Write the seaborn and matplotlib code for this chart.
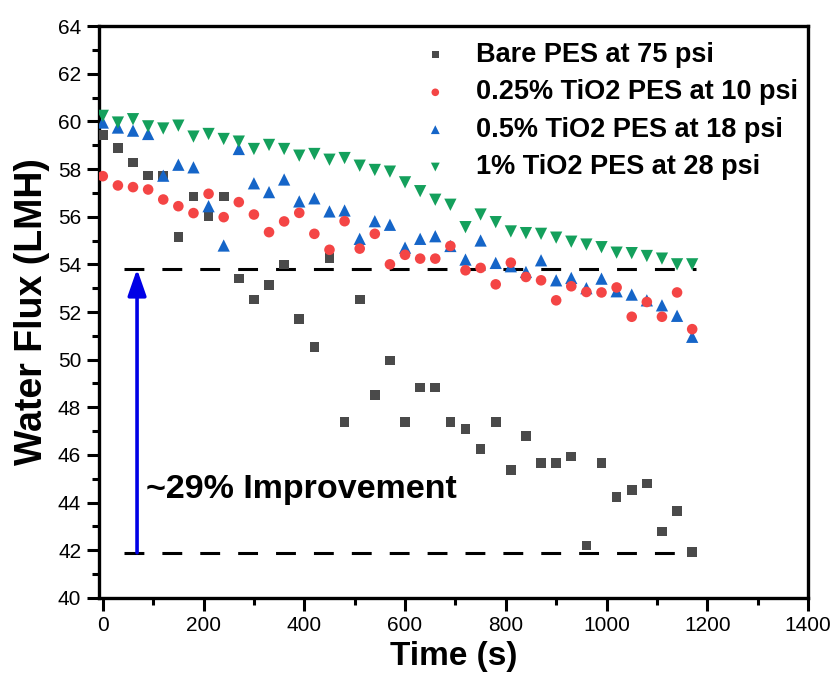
import numpy as np
import pandas as pd
import seaborn as sns
import matplotlib.pyplot as plt

# time points (s)
time_s = [0, 30, 60, 90, 120, 150, 180, 210, 240, 270,
          300, 330, 360, 390, 420, 450, 480, 510, 540, 570,
          600, 630, 660, 690, 720, 750, 780, 810, 840, 870,
          900, 930, 960, 990, 1020, 1050, 1080, 1110, 1140, 1170]

# water flux (LMH)
bare_pes = [59.44, 58.87, 58.28, 57.72, 57.70, 55.15, 56.84, 56.00, 56.84, 53.40,
            52.53, 53.12, 54.00, 51.70, 50.54, 54.26, 47.38, 52.53, 48.53, 49.96,
            47.38, 48.83, 48.83, 47.38, 47.08, 46.25, 47.38, 45.38, 46.80, 45.66,
            45.66, 45.94, 42.21, 45.66, 44.24, 44.52, 44.80, 42.79, 43.64, 41.92]
tio2_025 = [57.70, 57.31, 57.24, 57.14, 56.72, 56.44, 56.15, 56.96, 55.98, 56.61,
            56.09, 55.35, 55.80, 56.16, 55.28, 54.61, 55.81, 54.66, 55.28, 54.00,
            54.40, 54.24, 54.24, 54.77, 53.75, 53.85, 53.16, 54.07, 53.47, 53.33,
            52.49, 53.08, 52.84, 52.82, 53.03, 51.80, 52.42, 51.80, 52.82, 51.28]
tio2_05 = [59.95, 59.74, 59.61, 59.47, 57.72, 58.18, 58.07, 56.44, 54.79, 58.84,
           57.40, 57.03, 57.56, 56.64, 56.77, 56.22, 56.26, 55.07, 55.81, 55.66,
           54.70, 55.07, 55.18, 54.77, 54.20, 55.00, 54.06, 53.92, 53.68, 54.17,
           53.33, 53.43, 53.00, 53.40, 52.87, 52.73, 52.49, 52.28, 51.84, 50.96]
tio2_1 = [60.23, 59.95, 60.09, 59.79, 59.70, 59.82, 59.36, 59.47, 59.26, 59.15,
          58.84, 59.01, 58.84, 58.56, 58.63, 58.39, 58.46, 58.14, 57.96, 57.89,
          57.44, 57.07, 56.71, 56.50, 55.56, 56.09, 55.77, 55.38, 55.31, 55.28,
          55.12, 54.95, 54.83, 54.72, 54.49, 54.47, 54.35, 54.24, 54.00, 54.00]

labels = ['Bare PES at 75 psi', '0.25% TiO2 PES at 10 psi',
          '0.5% TiO2 PES at 18 psi', '1% TiO2 PES at 28 psi']
colors = ['#4a4a4a', '#f44545', '#1565c8', '#14a05c']
markers = ['s', 'o', '^', 'v']
sizes = [48, 58, 78, 78]

# reference levels for the annotation
upper_level = 53.8
lower_level = 41.9

sns.set_style('ticks')
plt.rcParams['font.family'] = ['Liberation Sans', 'DejaVu Sans']
plt.rcParams['text.color'] = 'black'
plt.rcParams['axes.labelcolor'] = 'black'
plt.rcParams['xtick.color'] = 'black'
plt.rcParams['ytick.color'] = 'black'

fig, ax = plt.subplots(figsize=(8.37, 6.81), dpi=100)
fig.subplots_adjust(left=0.1186, right=0.9654, bottom=0.1219, top=0.9618)

series = [bare_pes, tio2_025, tio2_05, tio2_1]
# draw blue before red so red sits on top like the original
for k in [0, 2, 1, 3]:
    df = pd.DataFrame({'Time': time_s, 'Flux': series[k]})
    sns.scatterplot(data=df, x='Time', y='Flux', ax=ax, color=colors[k],
                    marker=markers[k], s=sizes[k], edgecolor='none',
                    linewidth=0, label=labels[k], zorder=3)

# dashed reference lines
ax.hlines([upper_level, lower_level], 42, 1178, colors='black',
          linestyles=(0, (6.5, 5.9)), linewidth=2.2, zorder=2)

# improvement arrow
ax.annotate('', xy=(68, upper_level), xytext=(68, lower_level),
            arrowprops=dict(arrowstyle='-|>,head_length=0.8,head_width=0.28',
                            color='#0000e6', lw=2.6, mutation_scale=20,
                            shrinkA=0, shrinkB=0), zorder=4)
ax.text(85, 44.55, '~29% Improvement', fontsize=24.5, fontweight='bold',
        va='center', ha='left', color='black')

ax.set_xlim(-7, 1400)
ax.set_ylim(40, 64)
ax.set_xticks(range(0, 1401, 200))
ax.set_xticks(range(100, 1400, 200), minor=True)
ax.set_yticks(range(40, 65, 2))
ax.set_yticks(range(41, 64, 2), minor=True)
ax.tick_params(axis='both', which='major', direction='out', length=9, width=2.2,
               labelsize=15, color='black', labelcolor='black', pad=4)
ax.tick_params(axis='both', which='minor', direction='out', length=5, width=2.2,
               color='black')
for sp in ax.spines.values():
    sp.set_linewidth(2.4)
    sp.set_color('black')

ax.set_xlabel('Time (s)', fontsize=24, fontweight='bold', labelpad=4)
ax.set_ylabel('Water Flux (LMH)', fontsize=27, fontweight='bold', labelpad=6)

h, l = ax.get_legend_handles_labels()
order = [l.index(name) for name in labels]
ax.legend([h[i] for i in order], [l[i] for i in order], loc='upper left',
          bbox_to_anchor=(0.455, 0.972), frameon=False,
          prop={'weight': 'bold', 'size': 19.5}, handlelength=1.0,
          handletextpad=1.0, borderpad=0, borderaxespad=0, labelspacing=0.42,
          markerscale=0.72)

plt.savefig('out.png', dpi=100)
